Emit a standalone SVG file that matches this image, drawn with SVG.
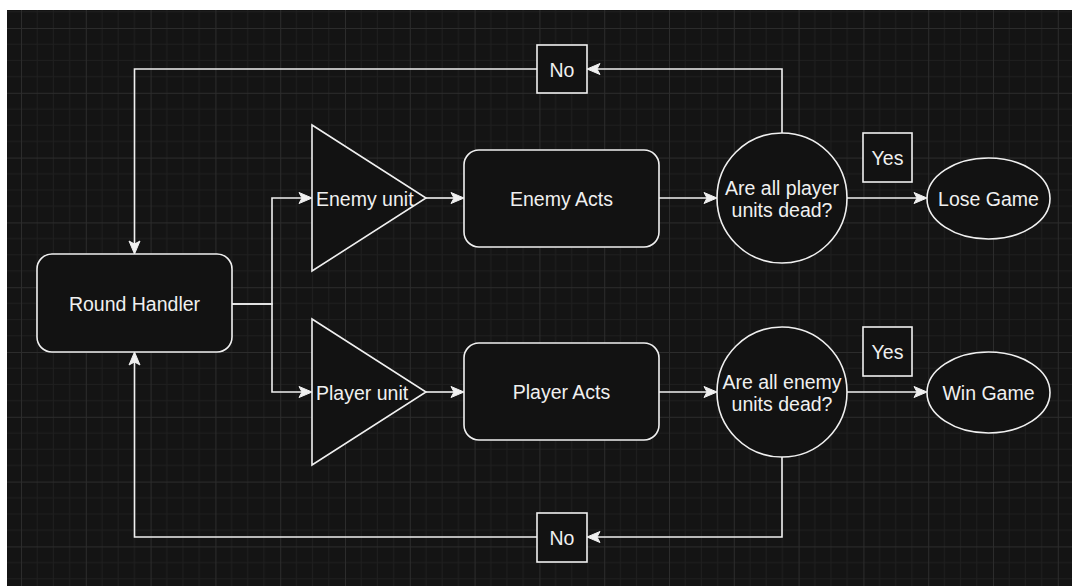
<svg xmlns="http://www.w3.org/2000/svg" width="1072" height="586" viewBox="0 0 1072 586">
<style>
.node{fill:#121212;stroke:#f0f0f0;stroke-width:1.6}
.edge{fill:none;stroke:#f0f0f0;stroke-width:1.6}
.lbl{font-family:"Liberation Sans",Arial,Helvetica,sans-serif;font-size:19.5px;fill:#f0f0f0;text-anchor:middle}
.start{text-anchor:start}
</style>
<defs>
<pattern id="grid" patternUnits="userSpaceOnUse" x="21" y="28" width="64.8" height="64.8">
<path d="M16.2,0V64.8M32.4,0V64.8M48.6,0V64.8M0,16.2H64.8M0,32.4H64.8M0,48.6H64.8" stroke="#1f1f1f" stroke-width="1" fill="none"/>
<path d="M0.5,0V64.8M0,0.5H64.8" stroke="#2c2c2c" stroke-width="1" fill="none"/>
</pattern>
<marker id="arr" markerUnits="userSpaceOnUse" viewBox="-4 -7 15 14" refX="0" refY="0" markerWidth="15" markerHeight="14" orient="auto">
<path d="M0,0 L-3,-5.5 L10,0 L-3,5.5 Z" fill="#f0f0f0" stroke="#f0f0f0" stroke-width="1" stroke-linejoin="miter"/>
</marker>
</defs>
<rect x="0" y="0" width="1072" height="586" fill="#ffffff"/>
<rect x="7" y="10" width="1065" height="576" fill="#141414"/>
<rect x="7" y="10" width="1065" height="576" fill="url(#grid)"/>

<g id="connectors">
<path class="edge" d="M232,304 H272 V198 H302" marker-end="url(#arr)"/>
<path class="edge" d="M232,304 H272 V392 H302" marker-end="url(#arr)"/>
<path class="edge" d="M426,198 H454" marker-end="url(#arr)"/>
<path class="edge" d="M426,392 H454" marker-end="url(#arr)"/>
<path class="edge" d="M659,198 H707" marker-end="url(#arr)"/>
<path class="edge" d="M659,392 H707" marker-end="url(#arr)"/>
<path class="edge" d="M847,198 H917" marker-end="url(#arr)"/>
<path class="edge" d="M847,392 H917" marker-end="url(#arr)"/>
<path class="edge" d="M782,133 V69 H597" marker-end="url(#arr)"/>
<path class="edge" d="M537,69 H134.5 V244" marker-end="url(#arr)"/>
<path class="edge" d="M782,457 V537 H597" marker-end="url(#arr)"/>
<path class="edge" d="M537,537 H134.5 V362" marker-end="url(#arr)"/>
</g>

<g id="round-handler">
<rect class="node" x="37" y="254" width="195" height="98" rx="15" ry="15"/>
<text class="lbl" x="134.5" y="311">Round Handler</text>
</g>
<g id="enemy-unit">
<polygon class="node" points="312,125 426,198 312,271"/>
<text class="lbl start" x="316" y="205.5">Enemy unit</text>
</g>
<g id="player-unit">
<polygon class="node" points="312,319 426,392 312,465"/>
<text class="lbl start" x="316" y="399.5">Player unit</text>
</g>
<g id="enemy-acts">
<rect class="node" x="464" y="150" width="195" height="97" rx="15" ry="15"/>
<text class="lbl" x="561.5" y="206">Enemy Acts</text>
</g>
<g id="player-acts">
<rect class="node" x="464" y="343" width="195" height="97" rx="15" ry="15"/>
<text class="lbl" x="561.5" y="399">Player Acts</text>
</g>
<g id="player-dead-check">
<circle class="node" cx="782" cy="198" r="65"/>
<text class="lbl" x="782" y="195">Are all player</text>
<text class="lbl" x="782" y="217">units dead?</text>
</g>
<g id="enemy-dead-check">
<circle class="node" cx="782" cy="392" r="65"/>
<text class="lbl" x="782" y="389">Are all enemy</text>
<text class="lbl" x="782" y="411">units dead?</text>
</g>
<g id="lose-game">
<ellipse class="node" cx="988.5" cy="198.5" rx="61.5" ry="40.5"/>
<text class="lbl" x="988.5" y="206">Lose Game</text>
</g>
<g id="win-game">
<ellipse class="node" cx="988.5" cy="392.5" rx="61.5" ry="40.5"/>
<text class="lbl" x="988.5" y="400">Win Game</text>
</g>
<g id="yes-top">
<rect class="node" x="863" y="133" width="49" height="49"/>
<text class="lbl" x="887.5" y="165">Yes</text>
</g>
<g id="yes-bottom">
<rect class="node" x="863" y="327" width="49" height="49"/>
<text class="lbl" x="887.5" y="359">Yes</text>
</g>
<g id="no-top">
<rect class="node" x="537" y="45" width="50" height="48"/>
<text class="lbl" x="562" y="76.5">No</text>
</g>
<g id="no-bottom">
<rect class="node" x="537" y="513" width="50" height="49"/>
<text class="lbl" x="562" y="545">No</text>
</g>
</svg>
